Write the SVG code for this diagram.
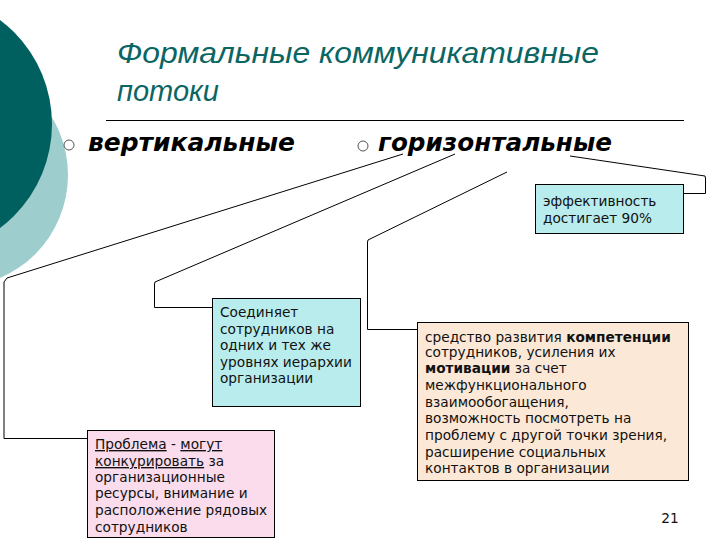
<svg xmlns="http://www.w3.org/2000/svg" width="720" height="540" viewBox="0 0 720 540">
<style>
.box{stroke:#000;stroke-width:1}
.t{font-family:"DejaVu Sans",Verdana,sans-serif;font-size:13.7px;fill:#111}
.title{font-family:"Liberation Sans",Arial,sans-serif;font-style:italic;font-size:29px;fill:#0b6663}
.h{font-family:"DejaVu Sans",Verdana,sans-serif;font-style:oblique;font-weight:bold;font-size:25px;fill:#000}
.conn{fill:none;stroke:#000;stroke-width:1}
.bul{fill:#fff;stroke:#555;stroke-width:1}
</style>
<rect width="720" height="540" fill="#fff"/>
<g id="decor">
<circle cx="-44" cy="175" r="112" fill="#9dcdcd"/>
<circle cx="-78" cy="124" r="130" fill="#00605f"/>
</g>
<g id="title">
<text class="title" x="117" y="63" textLength="482" lengthAdjust="spacingAndGlyphs">Формальные коммуникативные</text>
<text class="title" x="117" y="101">потоки</text>
<line x1="106" y1="120.5" x2="684" y2="120.5" stroke="#000" stroke-width="1"/>
</g>
<g id="heading-vertical">
<circle class="bul" cx="69" cy="145" r="5"/>
<text class="h" x="88" y="151" textLength="207" lengthAdjust="spacingAndGlyphs">вертикальные</text>
</g>
<g id="heading-horizontal">
<circle class="bul" cx="363" cy="146" r="5"/>
<text class="h" x="378" y="151" textLength="234" lengthAdjust="spacingAndGlyphs">горизонтальные</text>
</g>
<g id="connectors">
<polyline class="conn" points="403,154 7,278 4,282 4,438.5 87,438.5"/>
<polyline class="conn" points="455,154 155,282 154.5,284 154.5,307.5 212,307.5"/>
<polyline class="conn" points="507,172 368,240 367.5,242 367.5,329.5 417,329.5"/>
<polyline class="conn" points="570,156 705,176 705.5,178 705.5,193.5 683,193.5"/>
</g>
<g id="node-efficiency">
<rect class="box" x="535.5" y="184.5" width="148" height="49" fill="#b9ecec"/>
<text class="t" x="543" y="206">эффективность</text>
<text class="t" x="543" y="223">достигает 90%</text>
</g>
<g id="node-connects">
<rect class="box" x="212.5" y="298.5" width="148" height="108" fill="#b9ecec"/>
<text class="t" x="220" y="317">Соединяет</text>
<text class="t" x="220" y="334">сотрудников на</text>
<text class="t" x="220" y="350">одних и тех же</text>
<text class="t" x="220" y="367">уровнях иерархии</text>
<text class="t" x="220" y="383">организации</text>
</g>
<g id="node-problem">
<rect class="box" x="87.5" y="430.5" width="187" height="107" fill="#fadcec"/>
<text class="t" x="95" y="449"><tspan text-decoration="underline">Проблема</tspan> - <tspan text-decoration="underline">могут</tspan></text>
<text class="t" x="95" y="466"><tspan text-decoration="underline">конкурировать</tspan> за</text>
<text class="t" x="95" y="482">организационные</text>
<text class="t" x="95" y="498">ресурсы, внимание и</text>
<text class="t" x="95" y="515">расположение рядовых</text>
<text class="t" x="95" y="532">сотрудников</text>
</g>
<g id="node-means">
<rect class="box" x="417.5" y="322.5" width="271" height="158" fill="#fbe8d6"/>
<text class="t" x="425" y="342">средство развития <tspan font-weight="bold">компетенции</tspan></text>
<text class="t" x="425" y="357">сотрудников, усиления их</text>
<text class="t" x="425" y="373"><tspan font-weight="bold">мотивации</tspan> за счет</text>
<text class="t" x="425" y="390">межфункционального</text>
<text class="t" x="425" y="407">взаимообогащения,</text>
<text class="t" x="425" y="423">возможность посмотреть на</text>
<text class="t" x="425" y="440">проблему с другой точки зрения,</text>
<text class="t" x="425" y="457">расширение социальных</text>
<text class="t" x="425" y="473">контактов в организации</text>
</g>
<text class="t" x="670" y="523" text-anchor="middle">21</text>
</svg>
